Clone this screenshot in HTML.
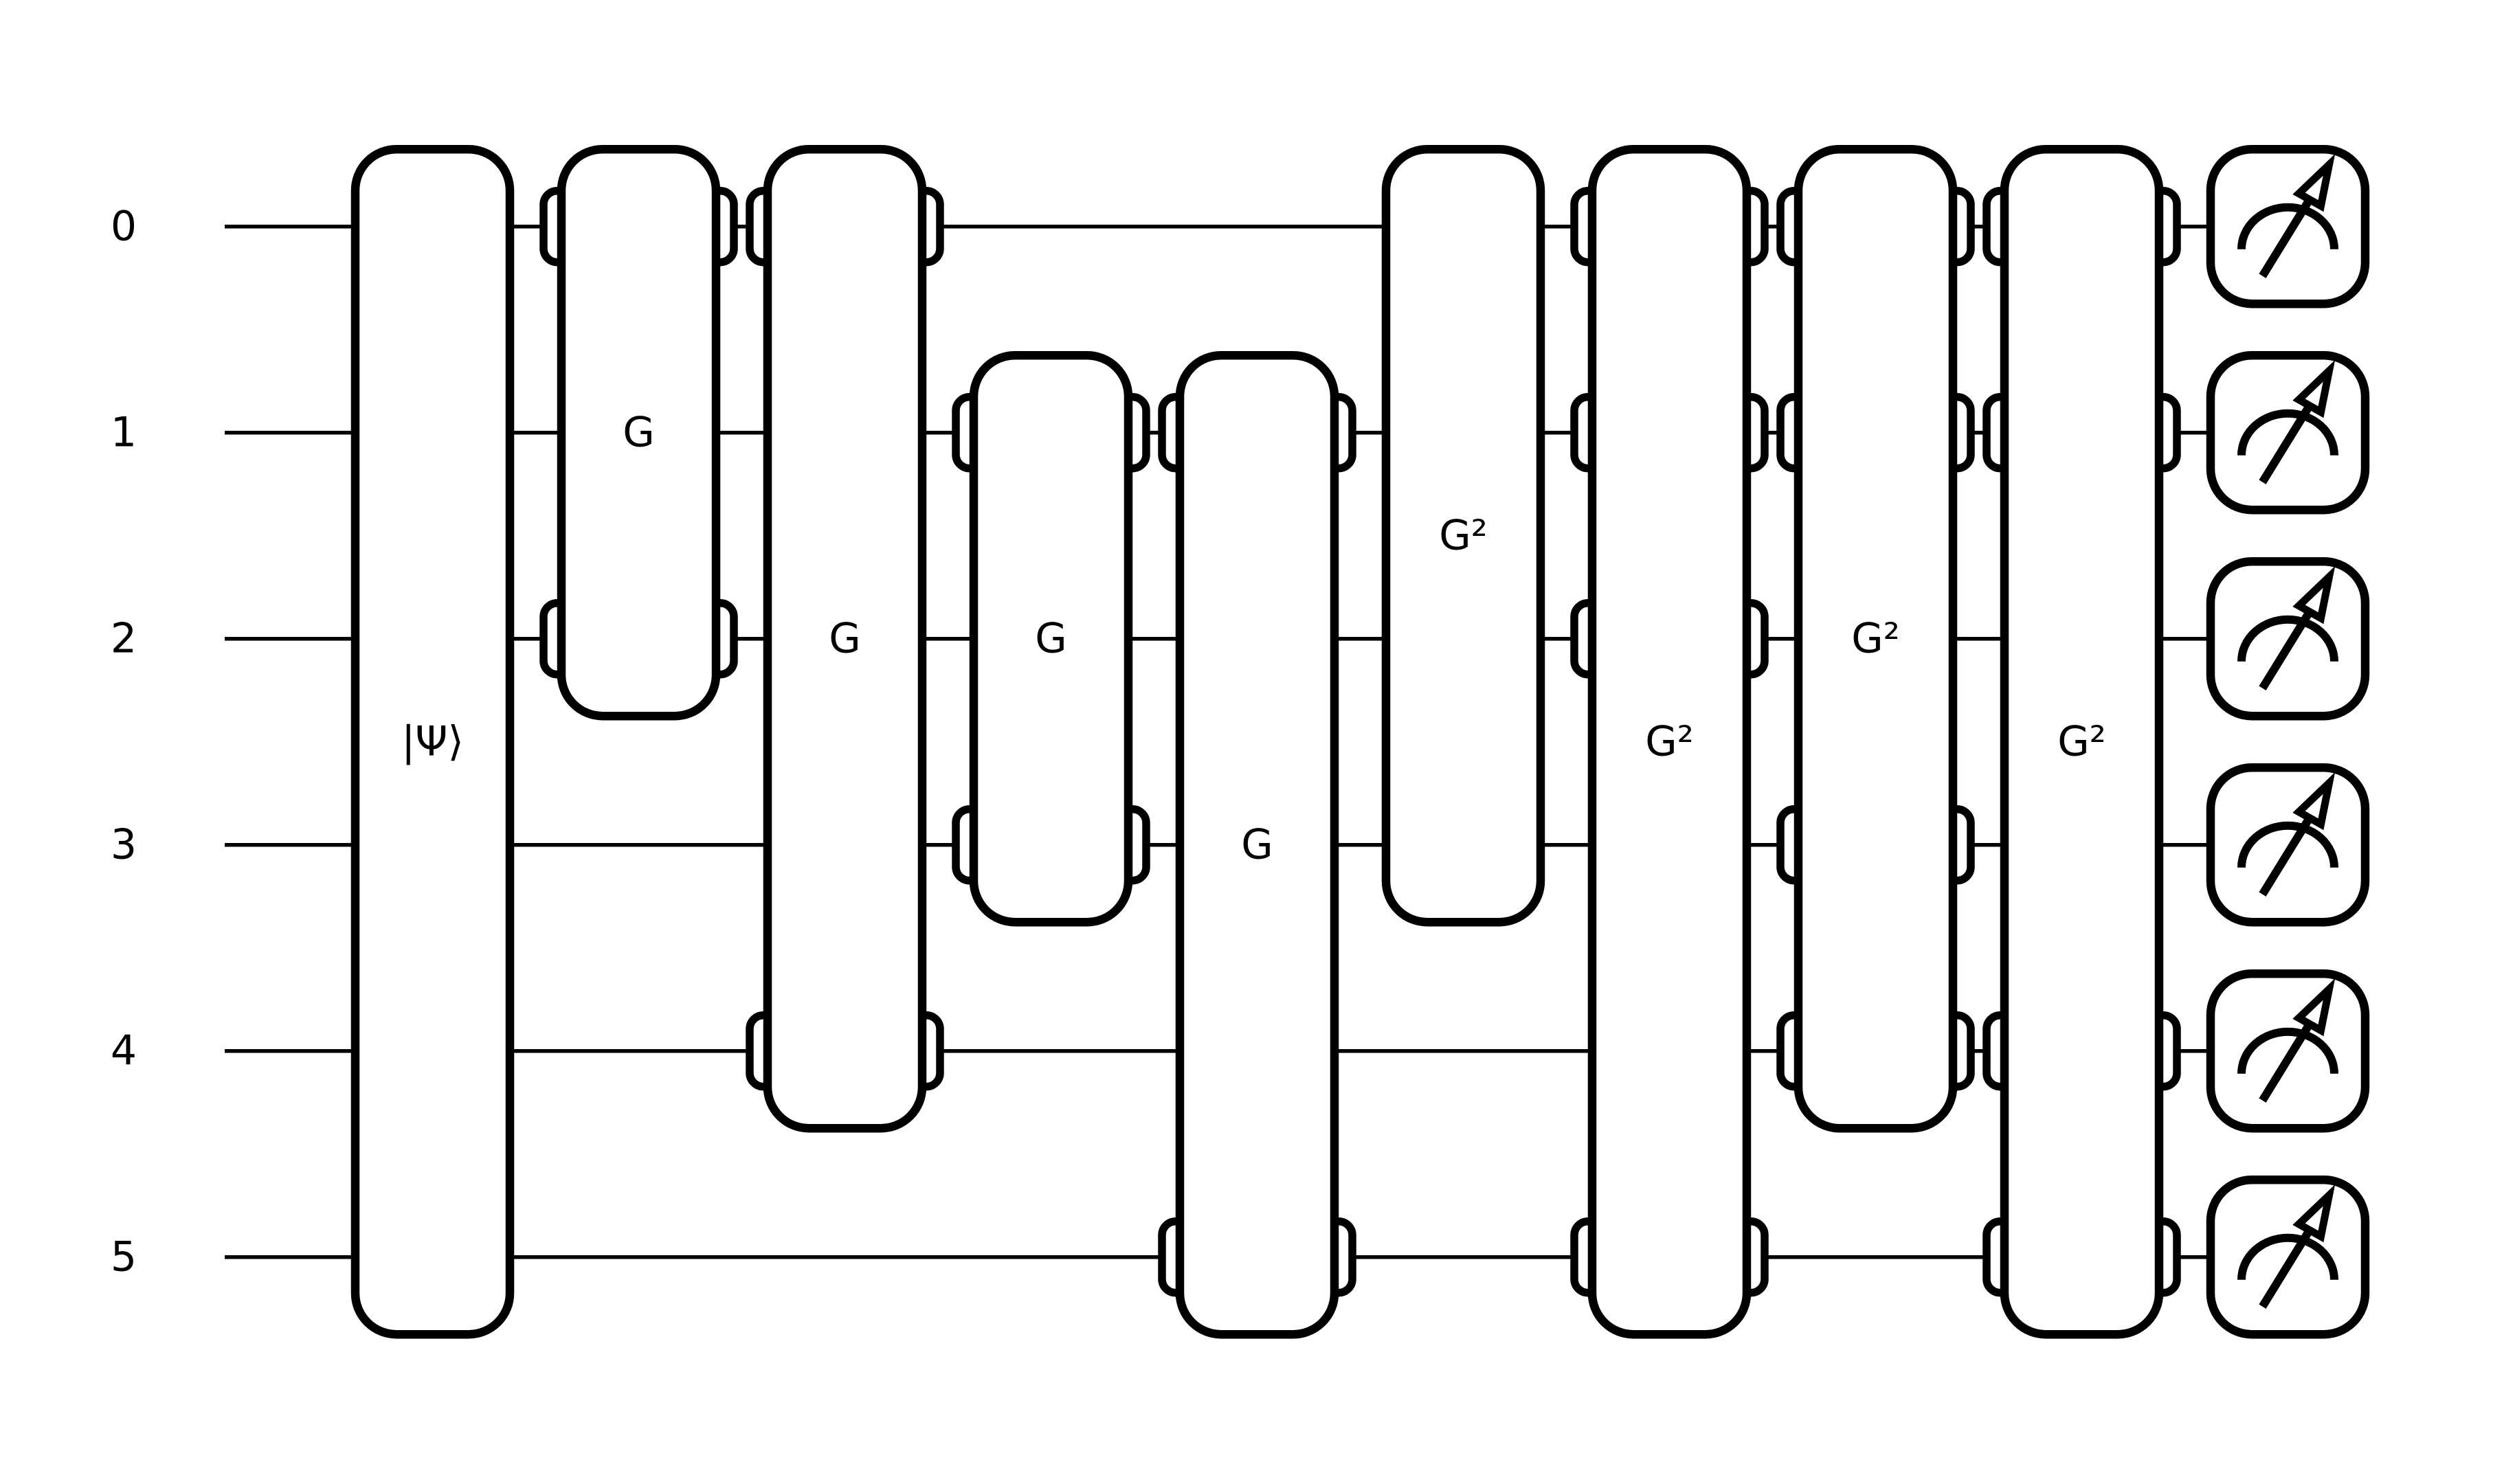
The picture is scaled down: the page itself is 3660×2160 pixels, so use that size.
<!DOCTYPE html>
<html><head><meta charset="utf-8"><style>
html,body{margin:0;padding:0;background:#fff;}
svg{display:block;}
text{font-family:"DejaVu Sans","Liberation Sans",sans-serif;font-size:60px;fill:#000;}
</style></head><body>
<svg id="c" width="3660" height="2160" viewBox="0 0 3660 2160" xmlns="http://www.w3.org/2000/svg">
<rect x="0" y="0" width="3660" height="2160" fill="#fff"/>
</svg>
<script>
const wireLabels = ['0','1','2','3','4','5'];
const gateLabels = ['|Ψ⟩','G','G','G','G','G²','G²','G²','G²'];
const gateWires = [[0,1,2,3,4,5],[0,2],[0,4],[1,3],[1,5],[0,1,2,3],[0,1,2,5],[0,1,3,4],[0,1,4,5]];
const measureWires = [0,1,2,3,4,5];

const NS='http://www.w3.org/2000/svg';
const svg=document.getElementById('c');
const X0=629.5, DX=300, Y0=329.7, DY=300;
const xCol=c=>X0+c*DX;
const yWire=w=>Y0+w*DY;
const HW=112.5, HH=112.5, R=60, SW=12.5;
function mk(tag,attrs,parent){const e=document.createElementNS(NS,tag);for(const k in attrs)e.setAttribute(k,attrs[k]);(parent||svg).appendChild(e);return e;}

// wires & labels
wireLabels.forEach((lab,i)=>{
  const l=mk('line',{x1:327,x2:xCol(gateLabels.length),y1:yWire(i),y2:yWire(i),stroke:'#000','stroke-width':5.5});
  
  
  const t=mk('text',{x:180,y:yWire(i),'text-anchor':'middle','dominant-baseline':'central'});
  t.textContent=lab;
  
  
});

// gates
gateLabels.forEach((lab,c)=>{
  const ws=gateWires[c];
  const lo=Math.min(...ws), hi=Math.max(...ws);
  const cx=xCol(c);
  const g=mk('g',{});
  
  
  let contiguous=(hi-lo+1)===ws.length;
  if(!contiguous){
    ws.forEach(w=>{
      [-1,1].forEach(side=>{
        const edge=cx+side*HW;
        const outer=edge+side*26;
        const x=side<0?outer:edge-40;
        const tab=mk('rect',{x:x,y:yWire(w)-52,width:66,height:104,rx:20,fill:'#fff',stroke:'#000','stroke-width':11.5},g);
        
        
      });
    });
  }
  const box=mk('rect',{x:cx-HW,y:yWire(lo)-HH,width:2*HW,height:yWire(hi)-yWire(lo)+2*HH,rx:R,fill:'#fff',stroke:'#000','stroke-width':SW},g);
  
  
  const t=mk('text',{x:cx,y:(yWire(lo)+yWire(hi))/2,'text-anchor':'middle','dominant-baseline':'central'},g);
  t.textContent=lab;
  
  
});

// measurements
measureWires.forEach(w=>{
  const cx=xCol(gateLabels.length), cy=yWire(w);
  const g=mk('g',{});
  
  
  mk('rect',{x:cx-HW,y:cy-HH,width:2*HW,height:2*HH,rx:R,fill:'#fff',stroke:'#000','stroke-width':SW},g);
  mk('path',{d:`M${cx-67.5},${cy+33} A67.5,61 0 0 1 ${cx+67.5},${cy+33}`,fill:'none',stroke:'#000','stroke-width':12},g);
  mk('line',{x1:cx-37,y1:cy+72,x2:cx+32,y2:cy-40,stroke:'#000','stroke-width':12},g);
  mk('polygon',{points:`${cx+60},${cy-90} ${cx+16},${cy-48} ${cx+48},${cy-30}`,fill:'#fff',stroke:'#000','stroke-width':11,'stroke-miterlimit':10},g);
});
</script>
</body></html>
